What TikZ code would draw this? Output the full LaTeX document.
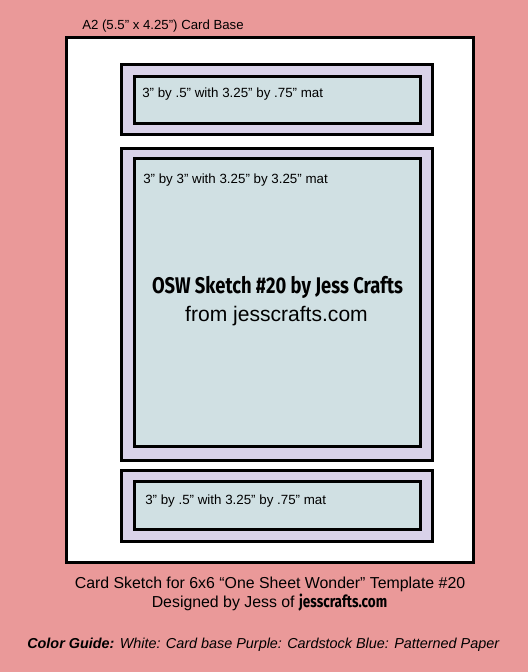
\documentclass[tikz,border=0pt]{standalone}
\usepackage{fontspec}
\setmainfont{Liberation Sans}
\newfontfamily\oswfont[FakeStretch=0.81]{Fira Sans}
\definecolor{bgpink}{HTML}{EA9999}
\definecolor{matpurple}{HTML}{D9D2E9}
\definecolor{paperblue}{HTML}{D0E0E3}

\begin{document}
\begin{tikzpicture}[x=0.75pt,y=0.75pt,yscale=-1,xscale=1,
  cardbase/.style={draw=black,fill=white,line width=2.25pt},
  matlayer/.style={draw=black,fill=matpurple,line width=2.25pt},
  paperlayer/.style={draw=black,fill=paperblue,line width=2.25pt},
  matlabel/.style={anchor=base west,inner sep=0pt,font=\fontsize{10}{12}\selectfont},
  centretext/.style={anchor=base,inner sep=0pt}]
%set diagram left start at 0, and has height of 672
\fill[bgpink] (0,0) rectangle (528,672);

%Shape: Rectangle [card base]
\draw[cardbase] (66.5,37.5) -- (473,37.5) -- (473,562.5) -- (66.5,562.5) -- cycle ;
%Shape: Rectangle [top mat]
\draw[matlayer] (121.5,64) -- (432,64) -- (432,134.5) -- (121.5,134.5) -- cycle ;
%Shape: Rectangle [top paper]
\draw[paperlayer] (134,76) -- (420,76) -- (420,123.5) -- (134,123.5) -- cycle ;
%Shape: Rectangle [middle mat]
\draw[matlayer] (121.5,148.5) -- (432,148.5) -- (432,460) -- (121.5,460) -- cycle ;
%Shape: Rectangle [middle paper]
\draw[paperlayer] (134,158.5) -- (420,158.5) -- (420,446.5) -- (134,446.5) -- cycle ;
%Shape: Rectangle [bottom mat]
\draw[matlayer] (121.5,470.5) -- (432,470.5) -- (432,541) -- (121.5,541) -- cycle ;
%Shape: Rectangle [bottom paper]
\draw[paperlayer] (134,481.5) -- (420,481.5) -- (420,529) -- (134,529) -- cycle ;

% Text Node
\draw (82,29.5) node (basetitle) [anchor=base west,inner sep=0pt,font=\fontsize{9.9}{12}\selectfont] {A2 (5.5” x 4.25”) Card Base};
% Text Node
\draw (142,97) node (toplabel) [matlabel] {3” by .5” with 3.25” by .75” mat};
% Text Node
\draw (143,183) node (midlabel) [matlabel] {3” by 3” with 3.25” by 3.25” mat};
% Text Node
\draw (145,504) node (botlabel) [matlabel] {3” by .5” with 3.25” by .75” mat};
% Text Node
\draw (277.5,293) node (sketchtitle) [centretext,font=\oswfont\bfseries\fontsize{17}{19}\selectfont] {OSW Sketch \#20 by Jess Crafts};
% Text Node
\draw (276.5,321.5) node (sitename) [centretext,font=\fontsize{15.8}{18}\selectfont] {from jesscrafts.com};
% Text Node
\draw (270,588) node (caption) [centretext,font=\fontsize{11.9}{14}\selectfont] {Card Sketch for 6x6 “One Sheet Wonder” Template \#20};
% Text Node
\draw (269.5,607) node (credit) [centretext,font=\fontsize{11.9}{14}\selectfont] {Designed by Jess of {\oswfont\bfseries\fontsize{12.5}{16}\selectfont jesscrafts.com}};
% Text Node
\draw (27,648) node (colorguide) [anchor=base west,inner sep=0pt,font=\itshape\fontsize{10.8}{13}\selectfont] {\textbf{Color Guide:} White: Card base Purple: Cardstock Blue: Patterned Paper};

\end{tikzpicture}
\end{document}
